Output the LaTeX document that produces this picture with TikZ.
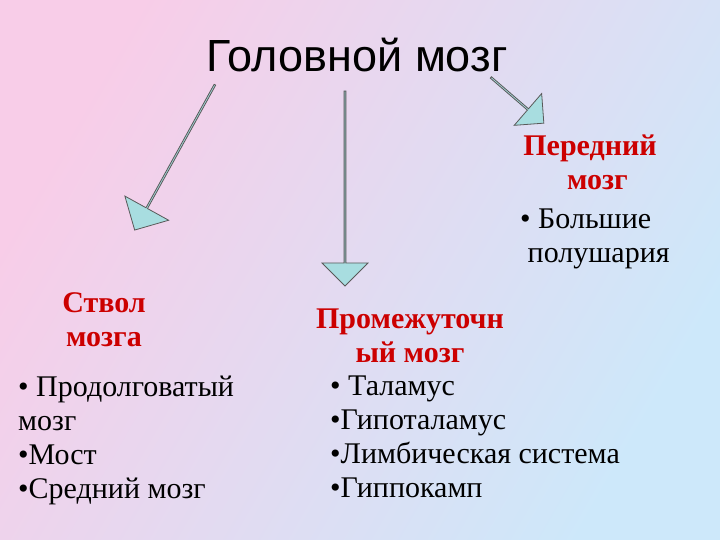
\documentclass[tikz,border=0pt]{standalone}
\usepackage{fontspec}
\setmainfont{Liberation Serif}
\newfontfamily\titlefont{Liberation Sans}
\usetikzlibrary{shapes.arrows}
\definecolor{hdr}{HTML}{CC0000}
\definecolor{arr}{HTML}{A8DDE0}
\begin{document}
\begin{tikzpicture}[x=1pt,y=-1pt,
  barr/.style={single arrow, draw=gray!70!black, fill=arr, line width=0.8pt, inner sep=0pt, outer sep=0pt},
  hd/.style={font=\fontsize{30}{34}\selectfont\bfseries, text=hdr, align=center, inner sep=0pt},
  body/.style={font=\fontsize{30}{34}\selectfont, align=left, anchor=north west, inner sep=0pt}]
\shade[left color={rgb,255:red,248;green,205;blue,232}, right color={rgb,255:red,205;green,232;blue,250}, shading angle=60] (0,0) rectangle (720,540);
\useasboundingbox (0,0) rectangle (720,540);
\node[font=\titlefont\fontsize{45}{50}\selectfont, inner sep=0pt] (t) at (357,55) {Головной мозг};
\node[barr, minimum height=166pt, minimum width=50pt, single arrow head extend=11pt, rotate=241.1] (a1) at (175,157) {};
\node[barr, minimum height=195pt, minimum width=46pt, single arrow head extend=10pt, rotate=270] (a2) at (345,188) {};
\node[barr, minimum height=70pt, minimum width=42pt, single arrow head extend=9pt, rotate=-40.8] (a3) at (517,100) {};
\node[hd] (h1) at (590,162) {Передний\\ \ \ мозг};
\node[hd] (h2) at (104,320) {Ствол\\мозга};
\node[hd] (h3) at (410,336) {Промежуточн\\ый мозг};
\node[body] (b1) at (520,209) {• Большие\\\ полушария};
\node[body] (b2) at (18,376) {• Продолговатый\\мозг\\•Мост\\•Средний мозг};
\node[body] (b3) at (330,376) {• Таламус\\•Гипоталамус\\•Лимбическая система\\•Гиппокамп};
\end{tikzpicture}
\end{document}
